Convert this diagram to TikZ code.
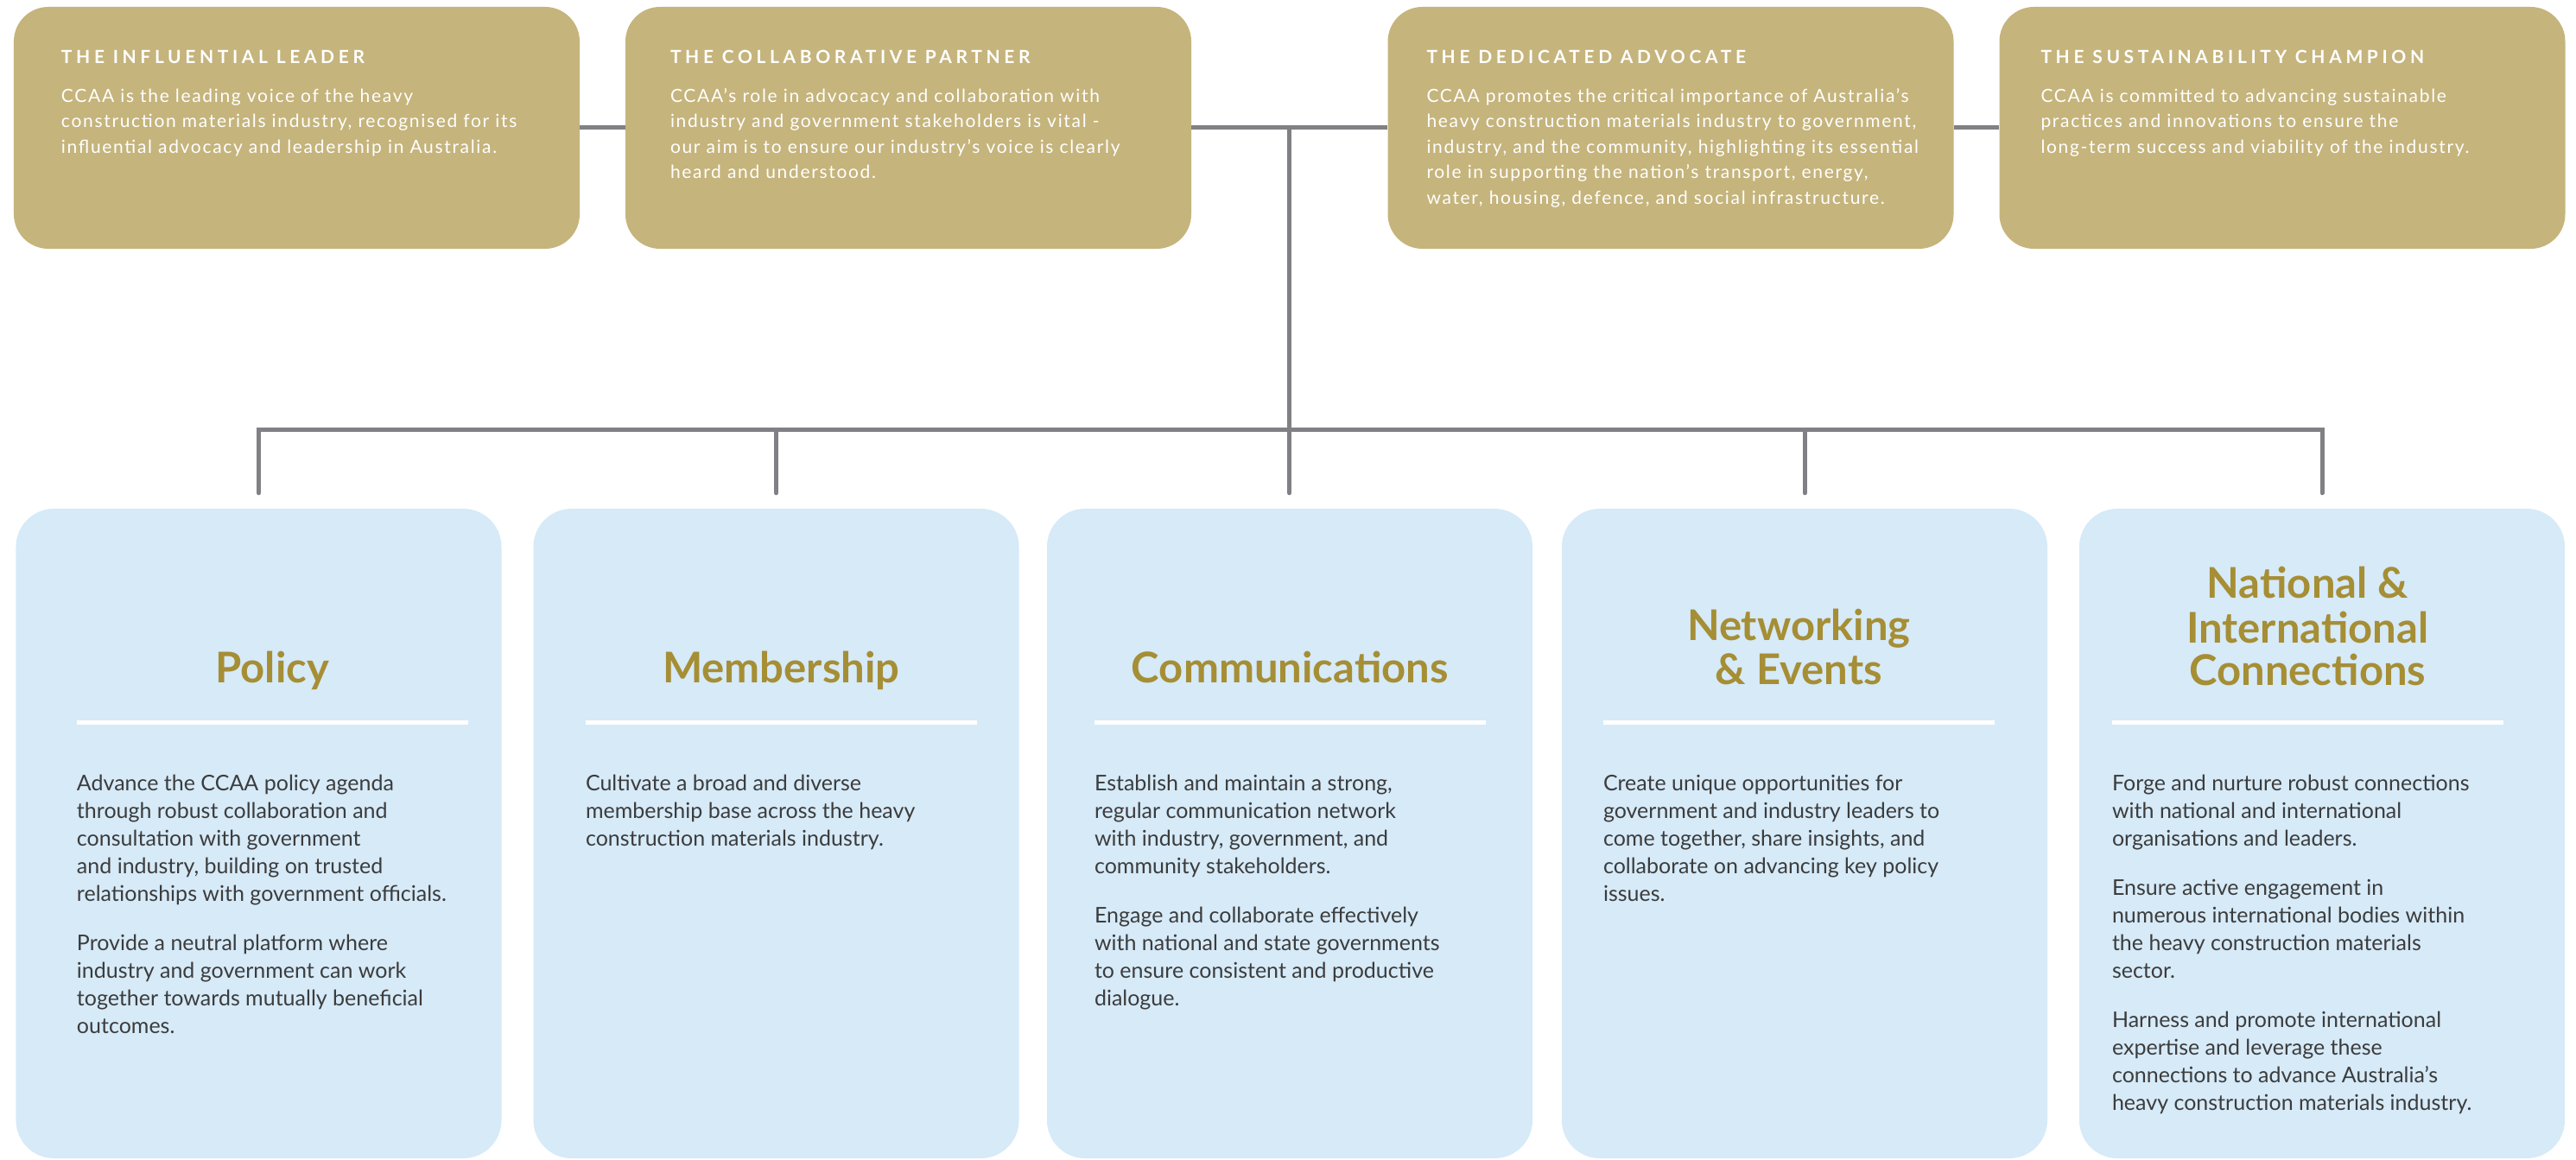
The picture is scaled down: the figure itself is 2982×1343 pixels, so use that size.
\documentclass[tikz,border=0pt]{standalone}
\usepackage{fontspec}
\setmainfont{Lato}
\newfontfamily\trackfont[LetterSpace=22]{Lato}
\newfontfamily\widefont[LetterSpace=8]{Lato}
\usetikzlibrary{calc}

\definecolor{boxgold}{RGB}{197,180,124}
\definecolor{headgold}{RGB}{166,142,53}
\definecolor{boxblue}{RGB}{214,234,248}
\definecolor{wiregray}{RGB}{128,128,133}
\definecolor{bodygray}{RGB}{60,60,60}

\tikzset{
    topbox/.style={fill=boxgold, rounded corners=40bp, minimum width=655bp, minimum height=280bp, inner sep=0},
    botbox/.style={fill=boxblue, rounded corners=44bp, minimum width=562bp, minimum height=752bp, inner sep=0},
    tophead/.style={anchor=base west, inner sep=0, text=white, font=\trackfont\bfseries\fontsize{21bp}{24bp}\selectfont},
    toptext/.style={anchor=north west, inner sep=0, align=left, text=white, font=\widefont\fontsize{21bp}{29.5bp}\selectfont},
    bothead/.style={anchor=north, inner sep=0, align=center, text=headgold, font=\bfseries\fontsize{49bp}{49bp}\selectfont},
    bottext/.style={anchor=north west, inner sep=0, align=left, text=bodygray, font=\fontsize{25bp}{32bp}\selectfont},
    wire/.style={draw=wiregray, line width=5bp},
    divider/.style={draw=white, line width=5bp}
}

\begin{document}
\begin{tikzpicture}[x=1bp, y=-1bp]
    \fill[white] (0,0) rectangle (2982,1343);
    %top row
    \node[topbox] (lead) at (343.5,148) {};
    \node[topbox] (partner) at (1051.5,148) {};
    \node[topbox] (advocate) at (1934,148) {};
    \node[topbox] (champion) at (2642,148) {};
    \node[tophead] (lead-head) at ($(lead.north west)+(55,66)$) {THE INFLUENTIAL LEADER};
    \node[tophead] (partner-head) at ($(partner.north west)+(52,66)$) {THE COLLABORATIVE PARTNER};
    \node[tophead] (advocate-head) at ($(advocate.north west)+(45,66)$) {THE DEDICATED ADVOCATE};
    \node[tophead] (champion-head) at ($(champion.north west)+(48,66)$) {THE SUSTAINABILITY CHAMPION};
    \node[toptext] (lead-txt) at ($(lead.north west)+(55,89.4)$) {\strut CCAA is the leading voice of the heavy\\construction materials industry, recognised for its\\influential advocacy and leadership in Australia.};
    \node[toptext] (partner-txt) at ($(partner.north west)+(52,89.4)$) {\strut CCAA’s role in advocacy and collaboration with\\industry and government stakeholders is vital -\\our aim is to ensure our industry’s voice is clearly\\heard and understood.};
    \node[toptext] (advocate-txt) at ($(advocate.north west)+(45,89.4)$) {\strut CCAA promotes the critical importance of Australia’s\\heavy construction materials industry to government,\\industry, and the community, highlighting its essential\\role in supporting the nation’s transport, energy,\\water, housing, defence, and social infrastructure.};
    \node[toptext] (champion-txt) at ($(champion.north west)+(48,89.4)$) {\strut CCAA is committed to advancing sustainable\\practices and innovations to ensure the\\long-term success and viability of the industry.};
    %bottom row
    \node[botbox] (policy) at (299.5,965) {};
    \node[botbox] (member) at (898.5,965) {};
    \node[botbox] (comms) at (1493,965) {};
    \node[botbox] (network) at (2089,965) {};
    \node[botbox] (natl) at (2688,965) {};
    \node[bothead] (policy-head) at ($(policy.north west)+(297,164.7)$) {\strut Policy};
    \node[bothead] (member-head) at ($(member.north west)+(287,164.7)$) {\strut Membership};
    \node[bothead] (comms-head) at ($(comms.north west)+(281.5,164.7)$) {\strut Communications};
    \node[bothead] (network-head) at ($(network.north west)+(274.5,115.7)$) {\strut Networking\\\& Events};
    \node[bothead] (natl-head) at ($(natl.north west)+(264.5,66.7)$) {\strut National \&\\International\\Connections};
    \draw[divider] ($(policy.north west)+(70.5,248)$) -- ++(453,0);
    \draw[divider] ($(member.north west)+(60.5,248)$) -- ++(453,0);
    \draw[divider] ($(comms.north west)+(55,248)$) -- ++(453,0);
    \draw[divider] ($(network.north west)+(48,248)$) -- ++(453,0);
    \draw[divider] ($(natl.north west)+(38,248)$) -- ++(453,0);
    \node[bottext] (policy-txt) at ($(policy.north west)+(70.5,303.6)$) {\strut Advance the CCAA policy agenda\\through robust collaboration and\\consultation with government\\and industry, building on trusted\\relationships with government officials.\\[25bp]Provide a neutral platform where\\industry and government can work\\together towards mutually beneficial\\outcomes.};
    \node[bottext] (member-txt) at ($(member.north west)+(60.5,303.6)$) {\strut Cultivate a broad and diverse\\membership base across the heavy\\construction materials industry.};
    \node[bottext] (comms-txt) at ($(comms.north west)+(55,303.6)$) {\strut Establish and maintain a strong,\\regular communication network\\with industry, government, and\\community stakeholders.\\[25bp]Engage and collaborate effectively\\with national and state governments\\to ensure consistent and productive\\dialogue.};
    \node[bottext] (network-txt) at ($(network.north west)+(48,303.6)$) {\strut Create unique opportunities for\\government and industry leaders to\\come together, share insights, and\\collaborate on advancing key policy\\issues.};
    \node[bottext] (natl-txt) at ($(natl.north west)+(38,303.6)$) {\strut Forge and nurture robust connections\\with national and international\\organisations and leaders.\\[25bp]Ensure active engagement in\\numerous international bodies within\\the heavy construction materials\\sector.\\[25bp]Harness and promote international\\expertise and leverage these\\connections to advance Australia’s\\heavy construction materials industry.};
    %connectors
    \draw[wire] (lead) -- (partner);
    \draw[wire] (partner) -- (advocate);
    \draw[wire] (advocate) -- (champion);
    \coordinate (hub) at ($(partner.east)!0.5!(advocate.west)$);
    \coordinate (policy-in) at ($(policy.north)+(0,-18)$);
    \coordinate (member-in) at ($(member.north)+(0,-18)$);
    \coordinate (comms-in) at ($(comms.north)+(0,-18)$);
    \coordinate (network-in) at ($(network.north)+(0,-18)$);
    \coordinate (natl-in) at ($(natl.north)+(0,-18)$);
    \coordinate (bar) at ($(policy-in)+(0,-73)$);
    \draw[wire, line cap=round] (hub) -- (hub |- comms-in);
    \draw[wire, line cap=round] (policy-in) -- (bar) -| (natl-in);
    \draw[wire, line cap=round] (member-in) -- (member-in |- bar);
    \draw[wire, line cap=round] (network-in) -- (network-in |- bar);
\end{tikzpicture}
\end{document}
